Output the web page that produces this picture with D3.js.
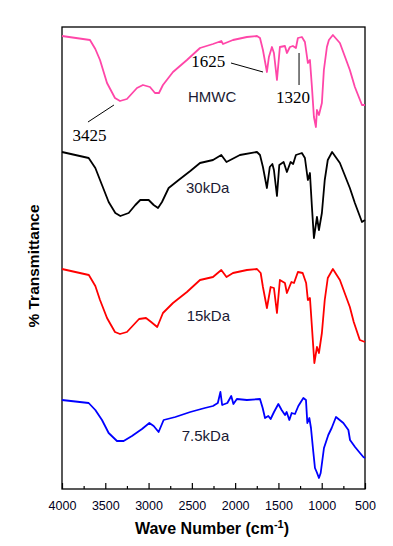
<!DOCTYPE html>
<html>
<head>
<meta charset="utf-8">
<script src="https://cdn.jsdelivr.net/npm/d3@7"></script>
<style>
  body { margin: 0; background: #fff; }
  svg { display: block; }
</style>
</head>
<body>
<script>
// wavenumber (cm-1) and offset transmittance (arbitrary units) for each sample
var hmwcWn = [4000,3677,3615,3561,3480,3388,3330,3250,3134,3065,2984,2926,2880,2834,2718,2557,2406,2256,2160,2140,2025,1864,1748,1713,1679,1633,1610,1575,1552,1517,1483,1425,1402,1367,1333,1298,1275,1229,1194,1160,1136,1113,1090,1067,1055,1032,998,975,940,917,871,790,675,617,535,500];
var hmwcT  = [453,449,440,429,406,391,388,390,401,404,402,396,396,404,417,429,441,445,448,445,449,452,453,451,439,417,432,442,436,409,442,443,436,442,443,441,451,452,447,426,429,402,372,362,379,374,386,419,442,449,454,446,419,402,384,384];

var kda30Wn = [4000,3692,3615,3538,3461,3384,3326,3230,3153,3096,2999,2941,2891,2845,2768,2652,2518,2406,2256,2160,2100,1945,1748,1713,1679,1633,1600,1570,1552,1517,1490,1440,1402,1360,1330,1298,1229,1194,1160,1136,1113,1090,1055,1032,998,965,930,880,790,675,617,535,500];
var kda30T  = [337,331,321,304,287,276,273,276,284,289,289,284,281,287,301,309,318,326,329,334,327,334,337,334,322,301,322,325,319,293,324,327,317,327,325,334,336,331,309,316,282,251,272,259,276,309,329,337,326,301,286,267,269];

var kda15Wn = [4000,3690,3615,3561,3480,3388,3330,3250,3110,3030,2970,2900,2834,2718,2557,2406,2256,2160,2100,2025,1864,1748,1705,1679,1633,1590,1552,1517,1483,1425,1402,1350,1320,1275,1220,1180,1160,1136,1113,1085,1055,1032,998,965,930,871,790,675,630,560,500];
var kda15T  = [220,214,203,189,171,157,155,157,170,171,167,162,176,186,197,209,212,219,212,216,219,220,216,202,181,202,201,176,209,206,196,207,206,217,216,206,189,191,162,126,142,136,156,189,211,220,209,182,167,149,147];

var kda75Wn = [4000,3692,3615,3538,3461,3365,3288,3192,3076,2991,2941,2884,2826,2691,2518,2350,2256,2200,2170,2150,2090,2045,2020,1980,1864,1713,1682,1655,1617,1590,1551,1501,1463,1424,1405,1374,1347,1309,1270,1212,1182,1166,1143,1124,1097,1078,1058,1032,1012,974,924,885,835,750,692,673,615,558,519,500];
var kda75T  = [89,86,79,69,56,48,48,53,60,66,63,57,69,72,77,81,83,86,97,84,86,93,85,90,89,90,81,71,73,70,77,85,79,74,77,69,76,75,83,91,89,66,71,61,37,21,17,11,16,41,54,61,72,66,59,49,42,36,32,31];

var seriesNames  = ["HMWC", "30kDa", "15kDa", "7.5kDa"];
var seriesColors = ["#ff46a8", "#000000", "#ff0000", "#0000ff"];

var xTicks = [4000, 3500, 3000, 2500, 2000, 1500, 1000, 500];
var xMinorTicks = [3750, 3250, 2750, 2250, 1750, 1250, 750];

var margin = {top: 27, right: 28, bottom: 57, left: 62},
    width = 393 - margin.left - margin.right,
    height = 546 - margin.top - margin.bottom;

var x = d3.scaleLinear()
    .domain([4000, 500])
    .range([0, width]);

var y = d3.scaleLinear()
    .domain([0, height])
    .range([height, 0]);

var series = [
  {name: seriesNames[0], color: seriesColors[0], wn: hmwcWn, t: hmwcT},
  {name: seriesNames[1], color: seriesColors[1], wn: kda30Wn, t: kda30T},
  {name: seriesNames[2], color: seriesColors[2], wn: kda15Wn, t: kda15T},
  {name: seriesNames[3], color: seriesColors[3], wn: kda75Wn, t: kda75T}
];

var line = d3.line()
    .x(function(d) { return x(d[0]); })
    .y(function(d) { return y(d[1]); });

var svg = d3.select("body").append("svg")
    .attr("width", 393)
    .attr("height", 546);

var g = svg.append("g")
    .attr("transform", "translate(" + margin.left + "," + margin.top + ")");

// frame
g.append("rect")
    .attr("x", 0).attr("y", 0)
    .attr("width", width).attr("height", height)
    .attr("fill", "none")
    .attr("stroke", "#000")
    .attr("stroke-width", 1.3);

// spectra
g.selectAll(".spectrum")
    .data(series)
  .enter().append("path")
    .attr("class", "spectrum")
    .attr("fill", "none")
    .attr("stroke", function(d) { return d.color; })
    .attr("stroke-width", 1.8)
    .attr("stroke-linejoin", "round")
    .attr("d", function(d) { return line(d.wn.map(function(w, i) { return [w, d.t[i]]; })); });

// bottom axis, ticks pointing inward
var xAxis = d3.axisBottom(x)
    .tickValues(xTicks)
    .tickSize(-6)
    .tickPadding(12)
    .tickFormat(d3.format("d"));

var xMinor = d3.axisBottom(x)
    .tickValues(xMinorTicks)
    .tickSize(-3)
    .tickFormat("");

var axisG = g.append("g")
    .attr("transform", "translate(0," + height + ")")
    .call(xAxis);
axisG.select(".domain").remove();
axisG.selectAll("line").attr("stroke", "#000").attr("stroke-width", 1.2);
axisG.selectAll("text")
    .attr("font-family", "Arial, 'Liberation Sans', sans-serif")
    .attr("font-size", "12.5px")
    .attr("fill", "#000022");

var minorG = g.append("g")
    .attr("transform", "translate(0," + height + ")")
    .call(xMinor);
minorG.select(".domain").remove();
minorG.selectAll("line").attr("stroke", "#000").attr("stroke-width", 1.2);

// axis titles
var xTitle = svg.append("text")
    .attr("x", 212)
    .attr("y", 534)
    .attr("text-anchor", "middle")
    .attr("font-family", "Arial, 'Liberation Sans', sans-serif")
    .attr("font-weight", "bold")
    .attr("font-size", "16px")
    .attr("fill", "#000");
xTitle.append("tspan").text("Wave Number (cm");
xTitle.append("tspan").attr("dy", -6).attr("font-size", "11px").text("-1");
xTitle.append("tspan").attr("dy", 6).text(")");

svg.append("text")
    .attr("transform", "translate(39,266) rotate(-90)")
    .attr("text-anchor", "middle")
    .attr("font-family", "Arial, 'Liberation Sans', sans-serif")
    .attr("font-weight", "bold")
    .attr("font-size", "15.5px")
    .attr("fill", "#000")
    .text("% Transmittance");

// sample labels
var labelPos = [[2545, 387], [2568, 296], [2560, 168], [2617, 48]];
g.selectAll(".sample-label")
    .data(series)
  .enter().append("text")
    .attr("class", "sample-label")
    .attr("x", function(d, i) { return x(labelPos[i][0]); })
    .attr("y", function(d, i) { return y(labelPos[i][1]); })
    .attr("font-family", "Arial, 'Liberation Sans', sans-serif")
    .attr("font-size", "15px")
    .attr("fill", "#1a1a33")
    .text(function(d) { return d.name; });

// peak annotations on the HMWC spectrum
var peakNotes = [
  {text: "3425", tx: 3682, ty: 348, line: [[3700, 367], [3400, 384]]},
  {text: "1625", tx: 2310, ty: 422, line: [[2048, 426], [1678, 417]]},
  {text: "1320", tx: 1332, ty: 386, line: [[1262, 436], [1262, 404]]}
];

peakNotes.forEach(function(p) {
  g.append("line")
      .attr("x1", x(p.line[0][0])).attr("y1", y(p.line[0][1]))
      .attr("x2", x(p.line[1][0])).attr("y2", y(p.line[1][1]))
      .attr("stroke", "#000")
      .attr("stroke-width", 1);
  g.append("text")
      .attr("x", x(p.tx))
      .attr("y", y(p.ty))
      .attr("text-anchor", "middle")
      .attr("font-family", "'Liberation Serif', 'Times New Roman', serif")
      .attr("font-size", "17px")
      .attr("fill", "#000")
      .text(p.text);
});
</script>
</body>
</html>
